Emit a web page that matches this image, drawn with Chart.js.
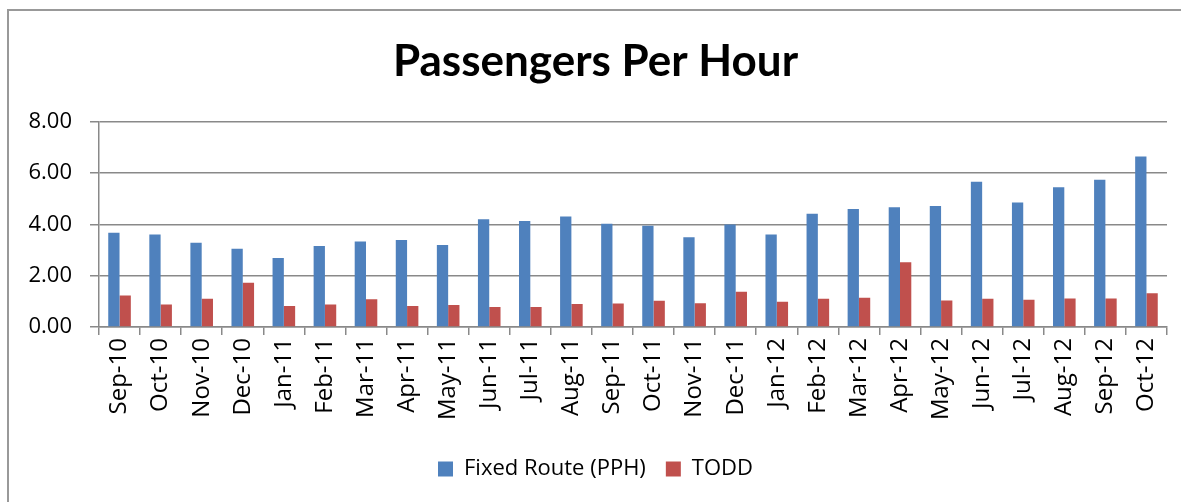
<!DOCTYPE html>
<html>
<head>
<meta charset="utf-8">
<script src="https://cdn.jsdelivr.net/npm/chart.js@4"></script>
<style>
    html, body { margin: 0; padding: 0; background: #fff; }
    #wrap { position: relative; width: 1181px; height: 502px; }
</style>
</head>
<body>
<div id="wrap"><canvas id="chart" width="1181" height="502"></canvas></div>
<script>
const months = ['Sep-10', 'Oct-10', 'Nov-10', 'Dec-10', 'Jan-11', 'Feb-11', 'Mar-11', 'Apr-11', 'May-11',
    'Jun-11', 'Jul-11', 'Aug-11', 'Sep-11', 'Oct-11', 'Nov-11', 'Dec-11', 'Jan-12', 'Feb-12', 'Mar-12',
    'Apr-12', 'May-12', 'Jun-12', 'Jul-12', 'Aug-12', 'Sep-12', 'Oct-12'];
const fixedRoute = [3.67, 3.61, 3.28, 3.05, 2.69, 3.16, 3.33, 3.39, 3.20,
    4.20, 4.13, 4.31, 4.03, 3.95, 3.50, 4.00, 3.61, 4.42, 4.60,
    4.67, 4.72, 5.66, 4.85, 5.45, 5.74, 6.65];
const todd = [1.23, 0.88, 1.10, 1.73, 0.82, 0.88, 1.08, 0.82, 0.86,
    0.78, 0.78, 0.90, 0.92, 1.02, 0.93, 1.37, 0.98, 1.10, 1.14,
    2.52, 1.03, 1.10, 1.06, 1.11, 1.11, 1.32];
const yTicks = [0, 2, 4, 6, 8];

const font = '"Open Sans", Lato, sans-serif';

// outer frame of the chart box
const framePlugin = {
    id: 'frame',
    beforeDraw(chart) {
        const c = chart.ctx;
        c.save();
        c.fillStyle = '#fff';
        c.fillRect(0, 0, chart.width, chart.height);
        c.strokeStyle = '#999';
        c.lineWidth = 2;
        c.strokeRect(8, 10, chart.width + 20, chart.height + 20);
        c.restore();
    }
};

function renderChart() {
    const ctx = document.getElementById('chart').getContext('2d');
    const chart = new Chart(ctx, {
        type: 'bar',
        data: {
            labels: months,
            datasets: [
                {
                    label: 'Fixed Route (PPH)',
                    data: fixedRoute,
                    backgroundColor: '#4F81BD'
                },
                {
                    label: 'TODD',
                    data: todd,
                    backgroundColor: '#C0504D'
                }
            ]
        },
        options: {
            responsive: false,
            animation: false,
            layout: { padding: { left: 24, right: 14, top: 12, bottom: 12 } },
            datasets: {
                bar: { categoryPercentage: 0.55, barPercentage: 1 }
            },
            plugins: {
                title: {
                    display: true,
                    text: 'Passengers Per Hour',
                    color: '#000',
                    font: { family: 'Lato, sans-serif', size: 44, weight: 'bold' },
                    padding: { top: 23, bottom: 34 }
                },
                legend: {
                    position: 'bottom',
                    labels: {
                        color: '#000',
                        font: { family: font, size: 22 },
                        boxWidth: 15,
                        boxHeight: 15,
                        padding: 20
                    }
                },
                tooltip: { enabled: false }
            },
            scales: {
                x: {
                    afterFit(axis) {
                        axis.height = 111;
                    },
                    grid: {
                        drawOnChartArea: false,
                        drawTicks: true,
                        tickLength: 8,
                        color: '#898989',
                        lineWidth: 1.5
                    },
                    border: { color: '#898989', width: 1.5 },
                    ticks: {
                        color: '#000',
                        font: { family: font, size: 24 },
                        maxRotation: 90,
                        minRotation: 90,
                        padding: 3,
                        autoSkip: false
                    }
                },
                y: {
                    min: 0,
                    max: 8,
                    afterBuildTicks(axis) {
                        axis.ticks = yTicks.map(v => ({ value: v }));
                    },
                    afterFit(axis) {
                        axis.width = 75;
                    },
                    grid: {
                        color: '#898989',
                        lineWidth: 1.5,
                        tickLength: 9
                    },
                    border: { color: '#898989', width: 1.5 },
                    ticks: {
                        color: '#000',
                        font: { family: font, size: 22 },
                        padding: 18,
                        callback: v => Number(v).toFixed(2)
                    }
                }
            }
        },
        plugins: [framePlugin]
    });
}

renderChart();
</script>
</body>
</html>
